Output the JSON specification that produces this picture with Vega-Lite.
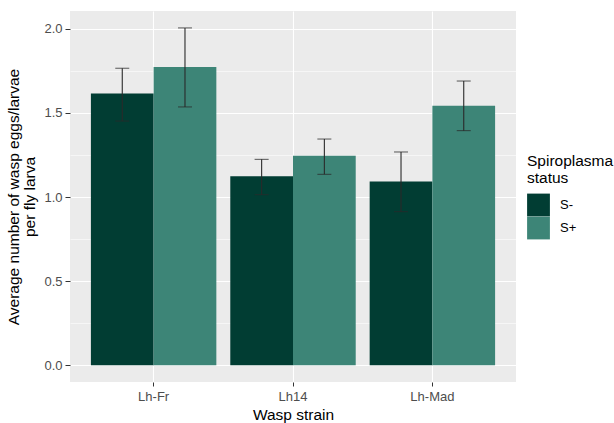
{
  "$schema": "https://vega.github.io/schema/vega-lite/v6.json",
  "width": 446,
  "height": 371,
  "autosize": {"type": "none"},
  "padding": {"left": 70, "top": 11, "right": 98, "bottom": 41},
  "background": "white",
  "config": {"font": "Liberation Sans", "view": {"fill": "#ebebeb", "stroke": null}},
  "data": {
    "values": [
      {"strain": "Lh-Fr", "status": "S-", "mean": 1.616, "lo": 1.452, "hi": 1.766},
      {"strain": "Lh-Fr", "status": "S+", "mean": 1.774, "lo": 1.536, "hi": 2.006},
      {"strain": "Lh14", "status": "S-", "mean": 1.123, "lo": 1.014, "hi": 1.224},
      {"strain": "Lh14", "status": "S+", "mean": 1.246, "lo": 1.135, "hi": 1.345},
      {"strain": "Lh-Mad", "status": "S-", "mean": 1.093, "lo": 0.913, "hi": 1.268},
      {"strain": "Lh-Mad", "status": "S+", "mean": 1.543, "lo": 1.395, "hi": 1.69}
    ]
  },
  "encoding": {
    "x": {
      "field": "strain",
      "type": "nominal",
      "sort": ["Lh-Fr", "Lh14", "Lh-Mad"],
      "scale": {"paddingInner": 0.1, "paddingOuter": 0.15},
      "title": "Wasp strain",
      "axis": {
        "labelAngle": 0,
        "grid": true,
        "gridColor": "white",
        "gridWidth": 1.1,
        "bandPosition": 0.5,
        "domain": false,
        "tickColor": "#333333",
        "tickSize": 4,
        "labelColor": "#4d4d4d",
        "labelFontSize": 13,
        "labelPadding": 4,
        "titleFontSize": 15.5,
        "titleFontWeight": "normal",
        "titleColor": "black",
        "titlePadding": 4
      }
    },
    "xOffset": {
      "field": "status",
      "type": "nominal",
      "sort": ["S-", "S+"],
      "scale": {"paddingInner": 0, "paddingOuter": 0}
    }
  },
  "layer": [
    {
      "mark": {"type": "bar"},
      "encoding": {
        "y": {
          "field": "mean",
          "type": "quantitative",
          "scale": {"domain": [-0.1003, 2.1066], "nice": false, "zero": false},
          "title": ["Average number of wasp eggs/larvae", "per fly larva"],
          "axis": {
            "values": [0, 0.25, 0.5, 0.75, 1, 1.25, 1.5, 1.75, 2],
            "labelExpr": "datum.value % 0.5 === 0 ? format(datum.value, '.1f') : ''",
            "grid": true,
            "gridColor": "white",
            "gridWidth": {"condition": {"test": "datum.value % 0.5 === 0", "value": 1.1}, "value": 0.55},
            "tickOpacity": {"condition": {"test": "datum.value % 0.5 === 0", "value": 1}, "value": 0},
            "tickColor": "#333333",
            "tickSize": 5,
            "domain": false,
            "labelColor": "#4d4d4d",
            "labelFontSize": 13,
            "labelPadding": 3,
            "titleFontSize": 15.5,
            "titleFontWeight": "normal",
            "titleColor": "black",
            "titleAlign": "center",
            "titleAnchor": "middle",
            "titleBaseline": "bottom",
            "titleLineHeight": 16,
            "titlePadding": 6
          }
        },
        "y2": {"datum": 0},
        "color": {
          "field": "status",
          "type": "nominal",
          "sort": ["S-", "S+"],
          "scale": {"domain": ["S-", "S+"], "range": ["#013d33", "#3d8577"]},
          "legend": {
            "title": ["Spiroplasma", "status"],
            "titleFontSize": 15.5,
            "titleFontWeight": "normal",
            "titleColor": "black",
            "titleLineHeight": 17,
            "titlePadding": 7,
            "labelFontSize": 13,
            "labelColor": "black",
            "labelOffset": 10,
            "symbolType": "square",
            "symbolSize": 520,
            "symbolStrokeWidth": 0,
            "symbolOpacity": 1,
            "rowPadding": 0,
            "orient": "none",
            "legendX": 457,
            "legendY": 143,
            "padding": 0
          }
        }
      }
    },
    {
      "mark": {"type": "rule", "color": "#2a2a2a", "strokeWidth": 1.1},
      "encoding": {
        "y": {"field": "lo", "type": "quantitative"},
        "y2": {"field": "hi"}
      }
    },
    {
      "mark": {"type": "tick", "color": "#2a2a2a", "thickness": 1.1, "size": 14},
      "encoding": {"y": {"field": "hi", "type": "quantitative"}}
    },
    {
      "mark": {"type": "tick", "color": "#2a2a2a", "thickness": 1.1, "size": 14},
      "encoding": {"y": {"field": "lo", "type": "quantitative"}}
    }
  ]
}
